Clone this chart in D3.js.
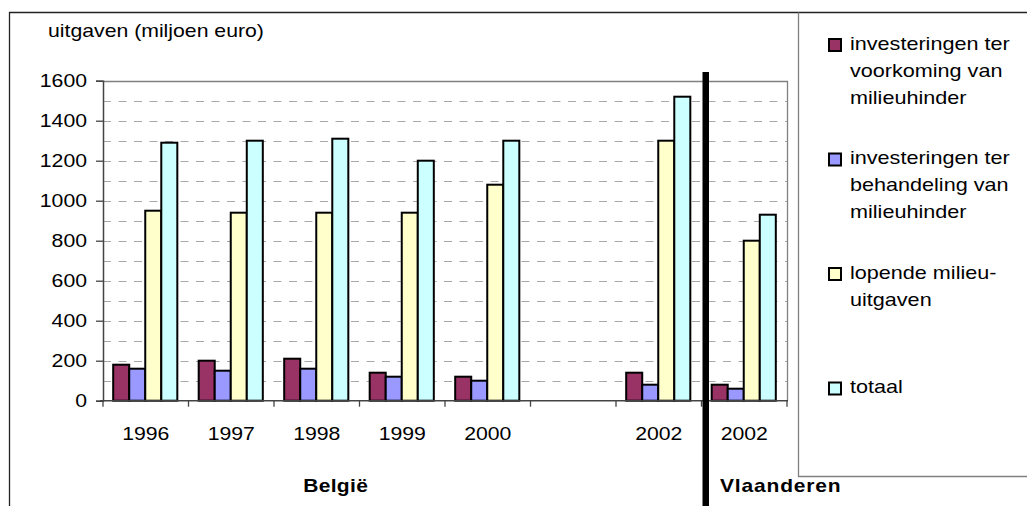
<!DOCTYPE html>
<html>
<head>
<meta charset="utf-8">
<script src="https://cdn.jsdelivr.net/npm/d3@7"></script>
<style>
  html, body { margin: 0; padding: 0; background: #fff; }
  svg { display: block; }
  text { font-family: "Liberation Sans", Arial, sans-serif; fill: #000; }
</style>
</head>
<body>
<svg id="chart" width="1027" height="506"></svg>
<script>
// Milieu-uitgaven per jaar (miljoen euro)
const categories = ["1996", "1997", "1998", "1999", "2000", "2001", "2002", "2002-VL"];
const categoryLabels = ["1996", "1997", "1998", "1999", "2000", "", "2002", "2002"];
const seriesNames = [
  "investeringen ter voorkoming van milieuhinder",
  "investeringen ter behandeling van milieuhinder",
  "lopende milieu-uitgaven",
  "totaal"
];
const voorkoming = [180, 200, 210, 140, 120, null, 140, 80];
const behandeling = [160, 150, 160, 120, 100, null, 80, 60];
const lopende = [950, 940, 940, 940, 1080, null, 1300, 800];
const totaal = [1290, 1300, 1310, 1200, 1300, null, 1520, 930];
const yTicks = [0, 200, 400, 600, 800, 1000, 1200, 1400, 1600];
const legendLines = [
  ["investeringen ter", "voorkoming van", "milieuhinder"],
  ["investeringen ter", "behandeling van", "milieuhinder"],
  ["lopende milieu-", "uitgaven"],
  ["totaal"]
];
const colors = ["#993366", "#9999FF", "#FFFFCC", "#CCFFFF"];

const seriesValues = [voorkoming, behandeling, lopende, totaal];

const svg = d3.select("#chart");
const FS = 18;        // font size
const SX = 1.18;      // horizontal text stretch

function label(g, x, y, str, opts = {}) {
  return g.append("text")
    .attr("transform", `translate(${x},${y}) scale(${opts.sx || SX},1)`)
    .attr("text-anchor", opts.anchor || "start")
    .style("font-size", (opts.size || FS) + "px")
    .style("font-weight", opts.bold ? "bold" : "normal")
    .style("letter-spacing", opts.spacing ? opts.spacing + "px" : null)
    .text(str);
}

// outer frame and legend box
svg.append("path")
  .attr("d", "M9.5,506 V12.5 H1027")
  .attr("fill", "none").attr("stroke", "#222").attr("stroke-width", 1.3);
svg.append("path")
  .attr("d", "M798.5,12.5 V476.5 H1027")
  .attr("fill", "none").attr("stroke", "#808080").attr("stroke-width", 1.3);

const plot = { left: 103, right: 787, top: 80.7, bottom: 400.7 };

const x0 = d3.scaleBand().domain(categories).range([plot.left, plot.right]);
const bw = x0.bandwidth();
const gap = bw * 0.25;
const x1 = d3.scaleBand().domain(d3.range(seriesNames.length)).range([gap / 2 - 0.5, bw - gap / 2 - 0.5]);
const y = d3.scaleLinear().domain([0, 1600]).range([plot.bottom, plot.top]);

// dashed gridlines every 100
const grid = d3.range(100, 1600, 100);
svg.append("g").selectAll("line").data(grid).join("line")
  .attr("x1", plot.left).attr("x2", plot.right)
  .attr("y1", d => Math.round(y(d)) + 0.5).attr("y2", d => Math.round(y(d)) + 0.5)
  .attr("stroke", "#a8a8a8").attr("stroke-width", 1)
  .attr("stroke-dasharray", "8,7.5");

// plot area border (top and right)
svg.append("path")
  .attr("d", `M${plot.left},${Math.round(y(1600)) + 0.5} H${plot.right + 0.5} V${plot.bottom}`)
  .attr("fill", "none").attr("stroke", "#808080").attr("stroke-width", 1.3);

// bars
const groups = svg.append("g").selectAll("g").data(categories).join("g")
  .attr("transform", d => `translate(${x0(d)},0)`);
groups.selectAll("rect")
  .data((c, ci) => seriesValues.map((vals, si) => ({ si, v: vals[ci] })).filter(d => d.v != null))
  .join("rect")
  .attr("x", d => x1(d.si))
  .attr("width", x1.bandwidth())
  .attr("y", d => y(d.v))
  .attr("height", d => y(0) - y(d.v))
  .attr("fill", d => colors[d.si])
  .attr("stroke", "#000").attr("stroke-width", 2);

// y axis
const yAxis = d3.axisLeft(y).tickValues(yTicks).tickSize(7).tickFormat("");
const yG = svg.append("g").attr("transform", `translate(${plot.left},0)`).call(yAxis);
yG.select(".domain").attr("stroke", "#444").attr("stroke-width", 1.5);
yG.selectAll(".tick line").attr("stroke", "#444").attr("stroke-width", 1.3);
yTicks.forEach(t => label(svg, 87, y(t) + 6.5, String(t), { anchor: "end" }));

// x axis with ticks at category boundaries
svg.append("line")
  .attr("x1", plot.left - 3).attr("x2", plot.right + 1)
  .attr("y1", plot.bottom).attr("y2", plot.bottom)
  .attr("stroke", "#444").attr("stroke-width", 1.5);
const bounds = categories.map(c => x0(c)).concat([plot.right]);
svg.append("g").selectAll("line").data(bounds).join("line")
  .attr("x1", d => d).attr("x2", d => d)
  .attr("y1", plot.bottom).attr("y2", plot.bottom + 6)
  .attr("stroke", "#444").attr("stroke-width", 1.3);
categories.forEach((c, i) => label(svg, x0(c) + bw / 2, 440, categoryLabels[i], { anchor: "middle" }));

// axis title
label(svg, 48, 36.5, "uitgaven (miljoen euro)");

// region labels
label(svg, 335.7, 491.5, "België", { anchor: "middle", bold: true, size: 17.5, sx: 1.2, spacing: 0.3 });
label(svg, 720, 491.5, "Vlaanderen", { bold: true, size: 17.5, sx: 1.2, spacing: 0.7 });

// separator between België and Vlaanderen
const sepX = x0(categories[7]) + 4;
svg.append("rect")
  .attr("x", sepX - 3).attr("y", 72)
  .attr("width", 6.5).attr("height", 506 - 72)
  .attr("fill", "#000");

// legend
const legend = svg.append("g");
legendLines.forEach((lines, i) => {
  const base = 49.5 + i * 114.5;
  legend.append("rect")
    .attr("x", 829).attr("y", base - 10.5)
    .attr("width", 12).attr("height", 12)
    .attr("fill", colors[i]).attr("stroke", "#000").attr("stroke-width", 2);
  lines.forEach((ln, j) => label(legend, 850, base + j * 27.2, ln, { sx: 1.2 }));
});
</script>
</body>
</html>
